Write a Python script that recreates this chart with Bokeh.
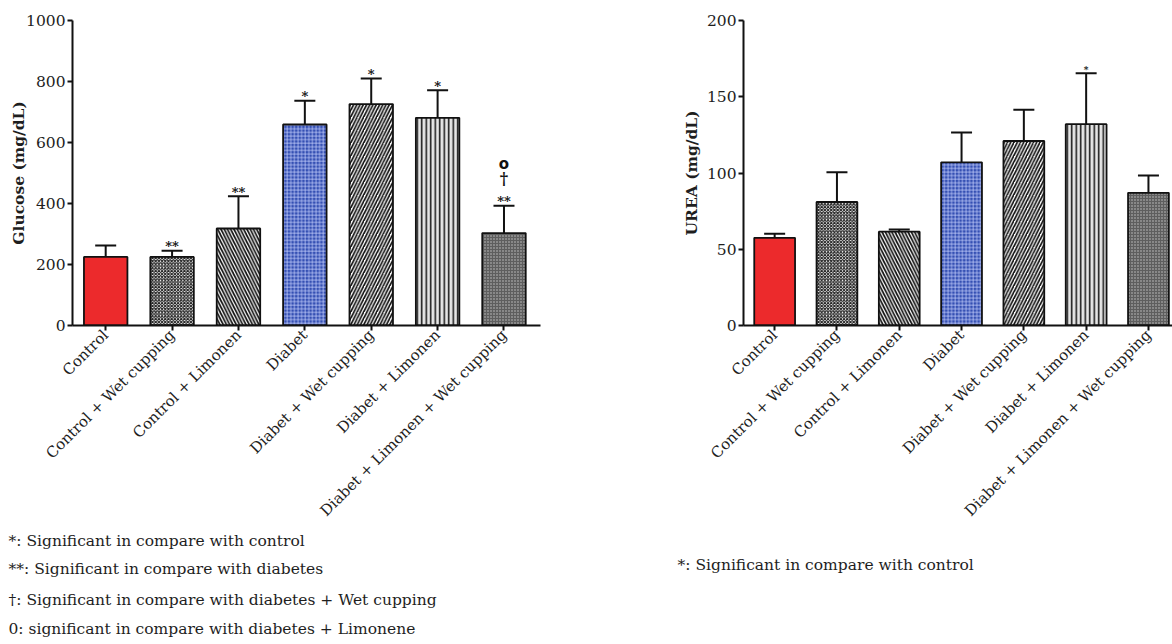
from bokeh.plotting import figure
from bokeh.models import (ColumnDataSource, Range1d, FixedTicker, Whisker, TeeHead, Title)
from bokeh.layouts import row
from bokeh.embed import file_html
from bokeh.resources import INLINE
from bokeh.core.properties import value
import math

# ---------------- data ----------------
groups = ["Control", "Control + Wet cupping", "Control + Limonen", "Diabet",
          "Diabet + Wet cupping", "Diabet + Limonen", "Diabet + Limonen + Wet cupping"]

glucose_mean = [225, 225, 318, 659, 726, 681, 303]
glucose_err = [37, 20, 106, 78, 84, 90, 90]
glucose_sig = ["", "**", "**", "*", "*", "*", "**"]
glucose_sig2 = ["", "", "", "", "", "", "\u2020"]
glucose_sig3 = ["", "", "", "", "", "", "o"]

urea_mean = [57.5, 81, 61.5, 107, 121, 132, 87]
urea_err = [2.7, 19.5, 1.5, 19.6, 20.4, 33.4, 11.4]
urea_sig = ["", "", "", "", "", "*", ""]

glucose_ticks = [0, 200, 400, 600, 800, 1000]
urea_ticks = [0, 50, 100, 150, 200]

notes_left = ["*: Significant in compare with control",
              "**: Significant in compare with diabetes",
              "\u2020: Significant in compare with diabetes + Wet cupping",
              "0: significant in compare with diabetes + Limonene"]
notes_right = ["*: Significant in compare with control"]

# ---------------- styles ----------------
styles = [
    dict(fill_color="#ec2a2c"),
    dict(fill_color="#ffffff", hatch_pattern="diagonal_cross", hatch_color="#222222", hatch_scale=3.2, hatch_weight=1.2),
    dict(fill_color="#ffffff", hatch_pattern="left_diagonal_line", hatch_color="#111111", hatch_scale=6.5, hatch_weight=1.7),
    dict(fill_color="#3550b3", hatch_pattern="cross", hatch_color="#c9d3ff", hatch_scale=3.6, hatch_weight=0.7),
    dict(fill_color="#ffffff", hatch_pattern="right_diagonal_line", hatch_color="#111111", hatch_scale=6.5, hatch_weight=1.7),
    dict(fill_color="#e6e6e6", hatch_pattern="vertical_line", hatch_color="#111111", hatch_scale=4.5, hatch_weight=1.5),
    dict(fill_color="#5e5e5e", hatch_pattern="dot", hatch_color="#c8c8c8", hatch_scale=3, hatch_weight=1.2),
]

SERIF = "DejaVu Serif"
TXT = "#1e1e1e"
FIG_H = 644
TOP = 20
BOTTOM = FIG_H - 325


def make_chart(means, errs, ticks, ylabel, ymax, xmax, width, bleft, bright, sig_lists, offs,
               label_standoff):
    n = len(means)
    xs = list(range(n))
    caps = [m + e for m, e in zip(means, errs)]
    p = figure(width=width, height=FIG_H, x_range=Range1d(-0.5, xmax), y_range=Range1d(0, ymax),
               output_backend="svg", toolbar_location=None,
               min_border_left=bleft, min_border_right=bright,
               min_border_top=TOP, min_border_bottom=BOTTOM)
    p.outline_line_color = None
    p.grid.grid_line_color = None
    p.background_fill_color = "white"
    p.border_fill_color = "white"

    for i in xs:
        src = ColumnDataSource(dict(x=[xs[i]], top=[means[i]]))
        p.vbar(x="x", top="top", bottom=0, width=0.655, source=src,
               line_color="#111111", line_width=1.8, **styles[i])

    wsrc = ColumnDataSource(dict(x=xs, lower=means, upper=caps))
    p.add_layout(Whisker(base="x", lower="lower", upper="upper", source=wsrc,
                         line_color="#111111", line_width=2,
                         upper_head=TeeHead(size=21, line_width=2, line_color="#111111"),
                         lower_head=None))

    # significance marks
    for k, lst in enumerate(sig_lists):
        yo, fs, fst, fam = offs[k]
        tsrc = ColumnDataSource(dict(x=xs, y=caps, t=lst))
        p.text(x="x", y="y", text="t", source=tsrc, text_align="center", text_baseline="alphabetic",
               y_offset=yo, text_font=value(fam), text_font_size=f"{fs}px", text_font_style=fst,
               text_color="#111111")

    # axes
    for ax in (p.xaxis[0], p.yaxis[0]):
        ax.axis_line_width = 2
        ax.axis_line_color = "#111111"
        ax.major_tick_line_width = 2
        ax.major_tick_line_color = "#111111"
        ax.major_tick_out = 5
        ax.major_tick_in = 0
        ax.minor_tick_line_color = None
        ax.major_label_text_font = SERIF
        ax.major_label_text_color = TXT
    p.yaxis.major_label_text_font_size = "15.5px"
    p.xaxis.major_label_text_font_size = "15px"
    p.yaxis.ticker = FixedTicker(ticks=ticks)
    p.yaxis.major_label_standoff = 2
    p.yaxis.axis_label = ylabel
    p.yaxis.axis_label_text_font = SERIF
    p.yaxis.axis_label_text_font_size = "15.5px"
    p.yaxis.axis_label_text_font_style = "bold"
    p.yaxis.axis_label_text_color = TXT
    p.yaxis.axis_label_standoff = label_standoff
    p.xaxis.ticker = FixedTicker(ticks=xs)
    p.xaxis.major_label_overrides = {i: g for i, g in enumerate(groups)}
    p.xaxis.major_label_orientation = math.pi / 4
    p.xaxis.major_label_standoff = 2
    return p


def add_notes(p, notes, offset, standoffs):
    for t, so in zip(notes, standoffs):
        p.add_layout(Title(text=t, align="left", offset=offset, standoff=so,
                           text_font=SERIF, text_font_size="15.5px", text_font_style="normal",
                           text_color=TXT), "below")


left = make_chart(glucose_mean, glucose_err, glucose_ticks, "Glucose (mg/dL)", 1000, 6.55, 650,
                  72, 110, [glucose_sig, glucose_sig2, glucose_sig3],
                  [(-4, 13, "bold", SERIF), (-27, 16, "bold", SERIF), (-42, 15, "bold", "DejaVu Sans")],
                  -5)
right = make_chart(urea_mean, urea_err, urea_ticks, "UREA (mg/dL)", 200, 6.386, 522,
                   93, 0, [urea_sig], [(-3, 9, "bold", SERIF)], 3)

add_notes(left, notes_left, -64, [0, 16, 7, 10])
add_notes(right, notes_right, -66, [49])

layout = row(left, right)
open("out.html", "w").write(file_html(layout, INLINE))
